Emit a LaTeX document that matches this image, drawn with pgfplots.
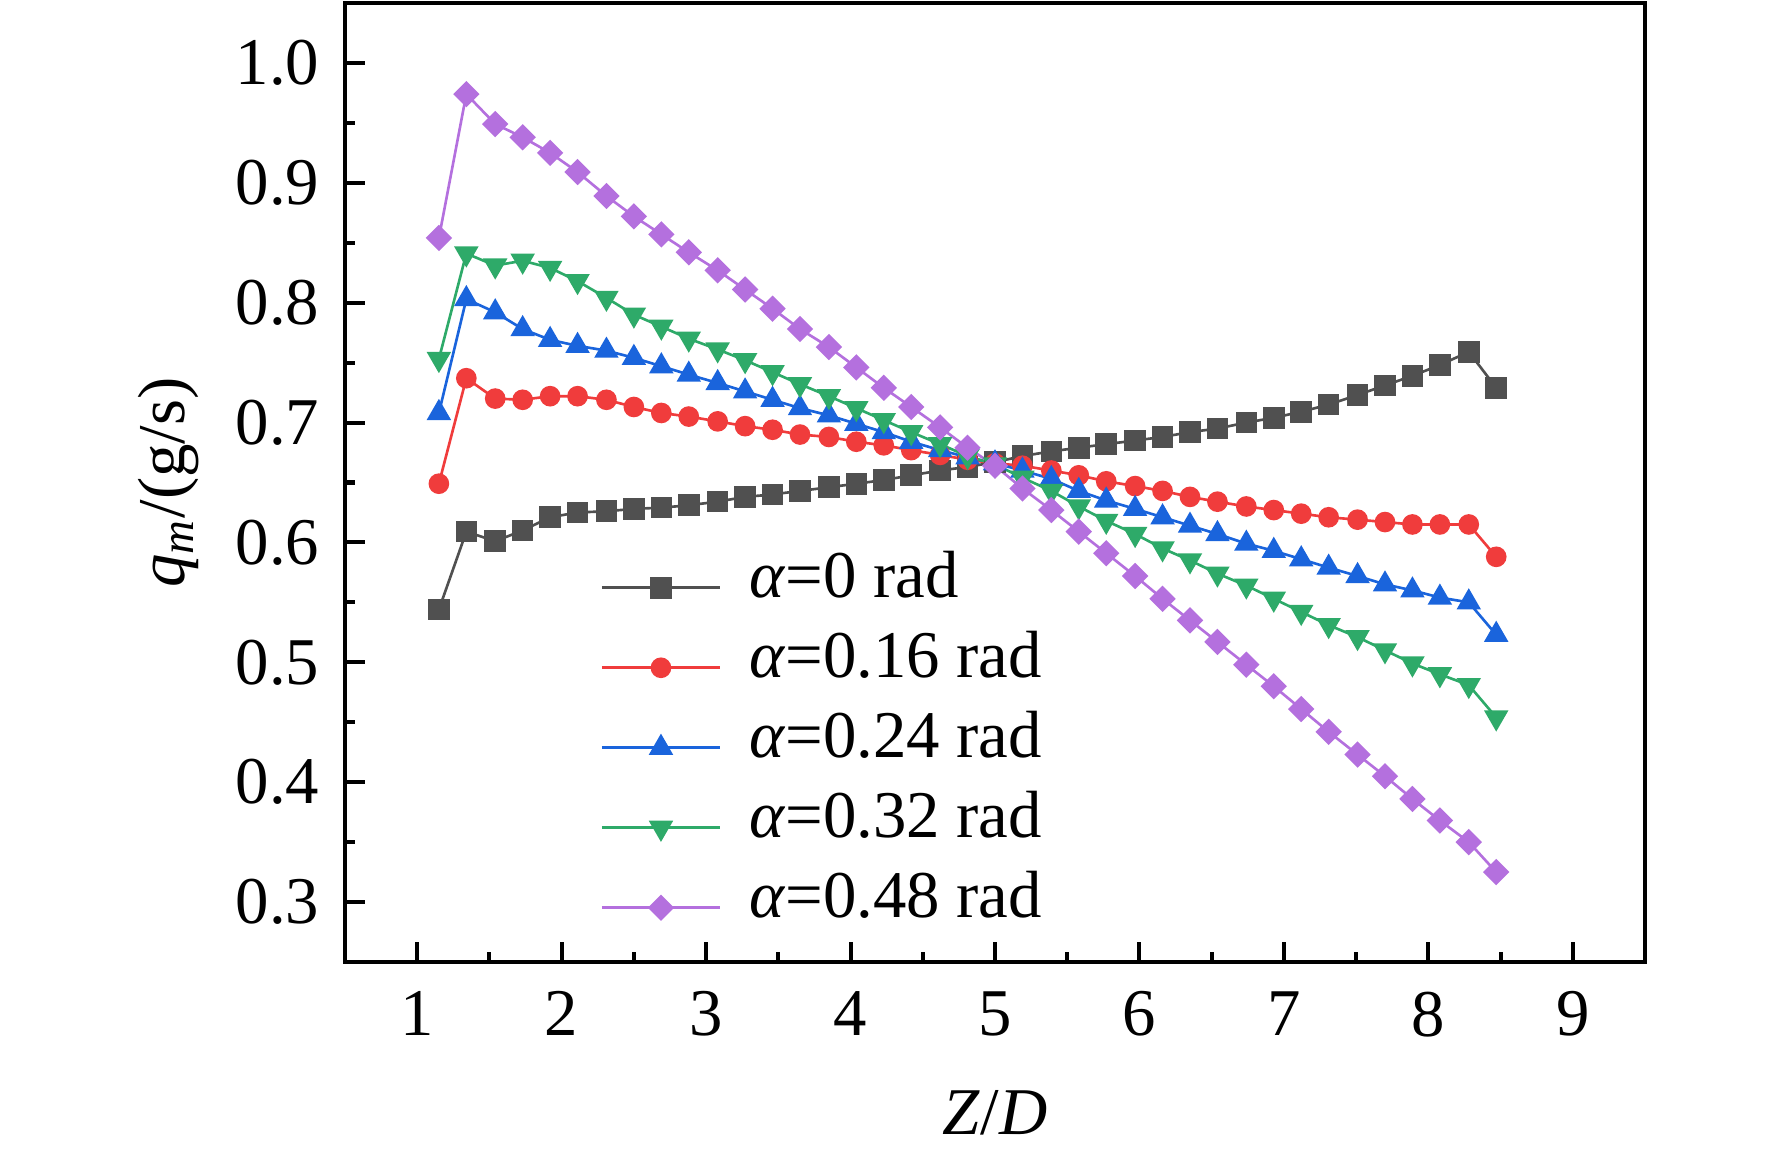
\documentclass[border=0pt]{standalone}
\usepackage{fontspec}
\setmainfont{Liberation Serif}
\usepackage{pgfplots}
\usepackage{pgfplotstable}
\pgfplotsset{compat=1.18}

\definecolor{cgray}{RGB}{80,80,80}
\definecolor{cred}{RGB}{240,60,60}
\definecolor{cblue}{RGB}{26,100,220}
\definecolor{cgreen}{RGB}{46,170,105}
\definecolor{cpurple}{RGB}{180,112,222}

\pgfplotstableread{
x     a0     a16    a24    a32    a48
1.15  0.544  0.649  0.708  0.753  0.854
1.34  0.609  0.737  0.803  0.841  0.974
1.54  0.601  0.720  0.792  0.831  0.949
1.73  0.610  0.719  0.778  0.835  0.938
1.92  0.621  0.722  0.769  0.829  0.925
2.11  0.625  0.722  0.764  0.818  0.909
2.31  0.626  0.719  0.760  0.804  0.889
2.50  0.628  0.713  0.754  0.790  0.872
2.69  0.629  0.708  0.747  0.780  0.857
2.88  0.631  0.705  0.740  0.770  0.842
3.08  0.634  0.701  0.733  0.761  0.827
3.27  0.638  0.697  0.726  0.752  0.811
3.46  0.640  0.694  0.719  0.742  0.795
3.65  0.643  0.690  0.712  0.732  0.778
3.85  0.646  0.688  0.706  0.722  0.763
4.04  0.649  0.684  0.699  0.712  0.746
4.23  0.652  0.681  0.692  0.702  0.729
4.42  0.656  0.677  0.684  0.692  0.713
4.62  0.660  0.673  0.677  0.682  0.696
4.81  0.663  0.669  0.671  0.672  0.679
5.00  0.667  0.666  0.666  0.665  0.664
5.19  0.672  0.664  0.660  0.654  0.645
5.39  0.676  0.660  0.653  0.643  0.627
5.58  0.679  0.656  0.643  0.630  0.609
5.77  0.682  0.651  0.635  0.618  0.591
5.97  0.685  0.647  0.628  0.607  0.572
6.16  0.688  0.643  0.621  0.595  0.553
6.35  0.692  0.638  0.614  0.585  0.535
6.54  0.695  0.634  0.607  0.574  0.517
6.74  0.700  0.630  0.599  0.564  0.498
6.93  0.704  0.627  0.593  0.553  0.480
7.12  0.709  0.624  0.586  0.542  0.461
7.31  0.715  0.621  0.579  0.531  0.442
7.51  0.723  0.619  0.572  0.521  0.423
7.70  0.731  0.617  0.565  0.510  0.405
7.89  0.739  0.615  0.560  0.499  0.386
8.08  0.748  0.615  0.554  0.490  0.368
8.28  0.759  0.615  0.550  0.481  0.350
8.47  0.729  0.588  0.523  0.454  0.325
}\datatable

\newcommand{\bigfont}{\fontsize{19}{23}\selectfont}

\begin{document}
\begin{tikzpicture}
\begin{axis}[
  at={(0mm,0mm)}, anchor=south west,
  scale only axis,
  width=130mm, height=95.9mm,
  xmin=0.5, xmax=9.5,
  ymin=0.25, ymax=1.05,
  xtick={1,2,3,4,5,6,7,8,9},
  ytick={0.3,0.4,0.5,0.6,0.7,0.8,0.9,1.0},
  minor x tick num=1,
  minor y tick num=1,
  tick align=inside,
  xtick pos=bottom, ytick pos=left,
  major tick length=2mm,
  minor tick length=1mm,
  every tick/.style={black, line width=1.15pt},
  axis line style={line width=1.15pt},
  /pgf/number format/assume math mode=true,
  yticklabel style={font=\bigfont, inner sep=0pt, xshift=-2.5mm,
    /pgf/number format/fixed, /pgf/number format/fixed zerofill,
    /pgf/number format/precision=1},
  xticklabel style={font=\bigfont, inner sep=0pt, yshift=-2.9mm},
  xlabel={\textit{Z}/\textit{D}},
  ylabel={\textit{q}\textsubscript{\textit{m}}/(g/s)},
  xlabel style={font=\bigfont, at={(axis description cs:0.5,-0.157)}, anchor=center},
  ylabel style={font=\bigfont, at={(axis description cs:-0.136,0.5)}, anchor=center, rotate=0},
  legend cell align=left,
  legend image code/.code={%
    \draw[mark repeat=2,mark phase=2,#1] plot coordinates {(0mm,0mm) (5.9mm,0mm) (11.8mm,0mm)};},
  legend style={at={(axis description cs:0.188,0.44)}, anchor=north west,
    draw=none, fill=none, font=\bigfont, row sep=0mm,
    nodes={inner sep=0pt, text height=5mm, text depth=3mm},
    /tikz/every even column/.append style={column sep=0mm}},
  every axis plot/.append style={line width=0.75pt},
]
\addplot[color=cgray, mark=square*, mark size=0.95mm, mark options={solid}] table[x=x,y=a0] {\datatable};
\addlegendentry{\hspace{2.8mm}\textit{α}=0 rad}
\addplot[color=cred, mark=*, mark size=0.9mm] table[x=x,y=a16] {\datatable};
\addlegendentry{\hspace{2.8mm}\textit{α}=0.16 rad}
\addplot[color=cblue, mark=triangle*, mark size=1.15mm] table[x=x,y=a24] {\datatable};
\addlegendentry{\hspace{2.8mm}\textit{α}=0.24 rad}
\addplot[color=cgreen, mark=triangle*, mark size=1.15mm, mark options={rotate=180}] table[x=x,y=a32] {\datatable};
\addlegendentry{\hspace{2.8mm}\textit{α}=0.32 rad}
\addplot[color=cpurple, mark=square*, mark size=0.8mm, mark options={rotate=45}] table[x=x,y=a48] {\datatable};
\addlegendentry{\hspace{2.8mm}\textit{α}=0.48 rad}
\end{axis}
\pgfresetboundingbox
\path[use as bounding box] (-34.5mm,-18.8mm) rectangle (142.7mm,96.2mm);
\end{tikzpicture}
\end{document}
